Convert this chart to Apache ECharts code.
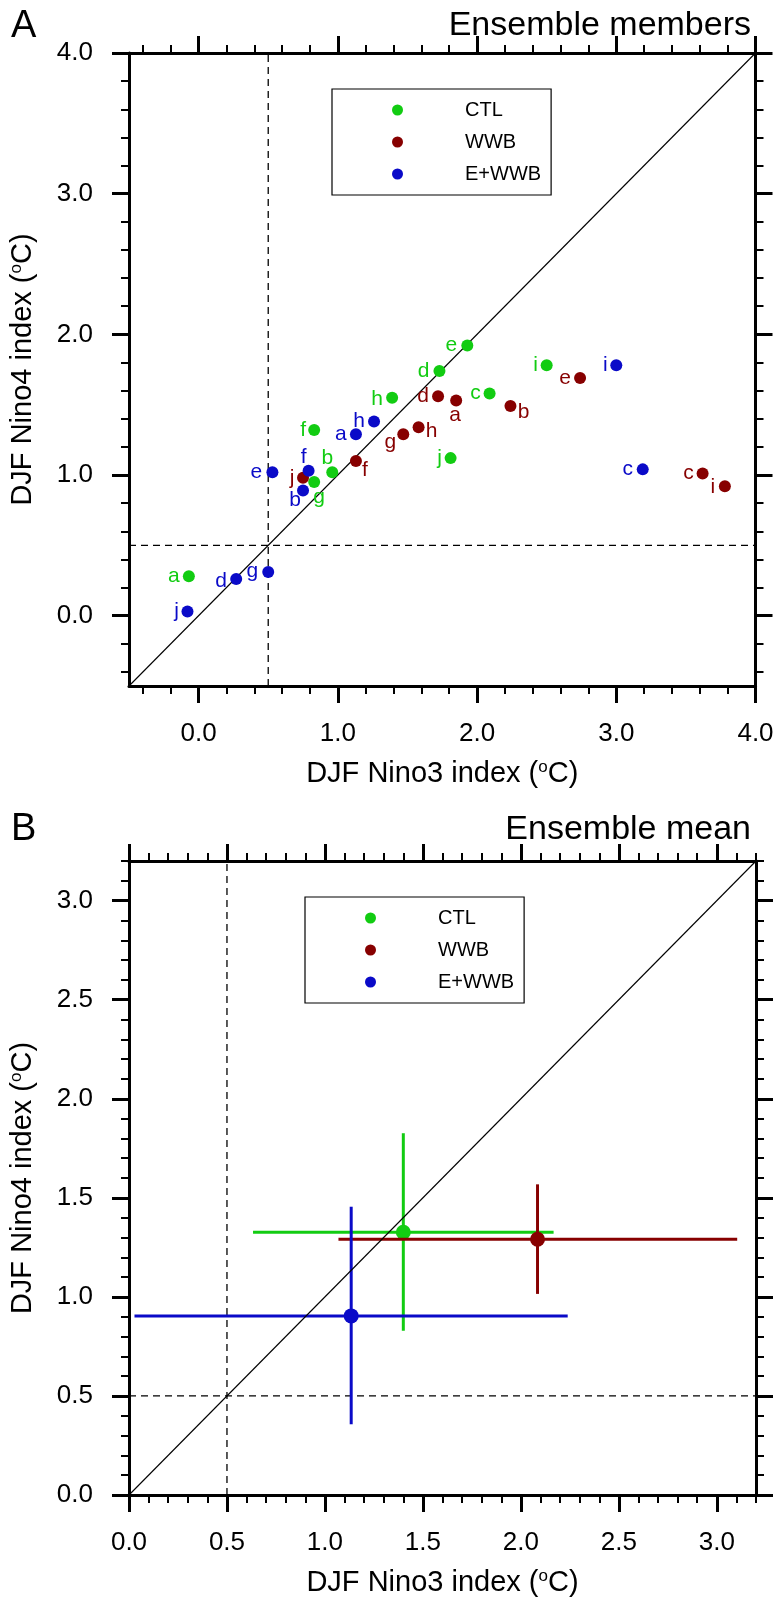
<!DOCTYPE html>
<html>
<head>
<meta charset="utf-8">
<script src="https://cdn.jsdelivr.net/npm/echarts@6/dist/echarts.min.js"></script>
<style>
  html, body { margin: 0; padding: 0; background: #fff; }
  #chart { width: 777px; height: 1599px; }
</style>
</head>
<body>
<div id="chart"></div>
<script>
// ---------------- DATA ----------------
const members = ['a', 'b', 'c', 'd', 'e', 'f', 'g', 'h', 'i', 'j'];
const groups = ['CTL', 'WWB', 'E+WWB'];

// Panel A: ensemble members (Nino3, Nino4)
const ctlX  = [-0.07, 0.96, 2.09, 1.73, 1.93, 0.83, 0.83, 1.39, 2.50, 1.81];
const ctlY  = [ 0.28, 1.02, 1.58, 1.74, 1.92, 1.32, 0.95, 1.55, 1.78, 1.12];
const wwbX  = [ 1.85, 2.24, 3.62, 1.72, 2.74, 1.13, 1.47, 1.58, 3.78, 0.75];
const wwbY  = [ 1.53, 1.49, 1.01, 1.56, 1.69, 1.10, 1.29, 1.34, 0.92, 0.98];
const ewwbX = [ 1.13, 0.75, 3.19, 0.27, 0.53, 0.79, 0.50, 1.26, 3.00, -0.08];
const ewwbY = [ 1.29, 0.89, 1.04, 0.26, 1.02, 1.03, 0.31, 1.38, 1.78, 0.03];

// Panel B: ensemble mean with spread bars
const meanX = [1.400, 2.085, 1.134];
const meanY = [1.326, 1.291, 0.904];
const barXLow  = [0.633, 1.069, 0.028];
const barXHigh = [2.167, 3.104, 2.239];
const barYLow  = [0.829, 1.015, 0.357];
const barYHigh = [1.826, 1.568, 1.455];

// Axis ranges and ticks
const rangeA = [-0.5, 4.0];
const majorTicksA = [0, 1, 2, 3, 4];
const minorTicksA = [-0.4, -0.2, 0.2, 0.4, 0.6, 0.8, 1.2, 1.4, 1.6, 1.8, 2.2, 2.4, 2.6, 2.8, 3.2, 3.4, 3.6, 3.8];
const rangeB = [0.0, 3.2];
const majorTicksB = [0, 0.5, 1.0, 1.5, 2.0, 2.5, 3.0];
const minorTicksB = [0.1, 0.2, 0.3, 0.4, 0.6, 0.7, 0.8, 0.9, 1.1, 1.2, 1.3, 1.4, 1.6, 1.7, 1.8, 1.9,
                     2.1, 2.2, 2.3, 2.4, 2.6, 2.7, 2.8, 2.9, 3.1, 3.2];
const threshold = 0.5;

// ---------------- STYLE ----------------
const colors = { 'CTL': '#12cc12', 'WWB': '#870000', 'E+WWB': '#0a0ac8' };
const FONT = '"Liberation Sans", Arial, Helvetica, sans-serif';

// label offsets (pixels, from dot centre) for member letters
const labelOffsets = {
  'CTL':   { a: [-15, 0], b: [-5, -14], c: [-14, 0], d: [-16, 0], e: [-16, 0], f: [-11, 0], g: [5, 15], h: [-15, 2], i: [-11, 0], j: [-11, 0] },
  'WWB':   { a: [-1, 15], b: [13, 6], c: [-14, 0], d: [-15, 0], e: [-15, 0], f: [9, 9], g: [-13, 8], h: [13, 4], i: [-12, 1], j: [-11, 0] },
  'E+WWB': { a: [-15, 0], b: [-8, 10], c: [-15, 0], d: [-15, 2], e: [-16, 0], f: [-5, -14], g: [-16, -1], h: [-15, 0], i: [-11, 0], j: [-11, 0] }
};

const gridA = { left: 122, top: 53, width: 633.5, height: 633 };
const gridB = { left: 123, top: 861, width: 633, height: 634 };

function axisName(letter) {
  return 'DJF Nino' + letter + ' index ({sup|o}C)';
}
const nameStyle = {
  fontFamily: FONT, fontSize: 29, color: '#000',
  rich: { sup: { fontFamily: FONT, fontSize: 17, verticalAlign: 'top', color: '#000', padding: [0, 0, 10, 0] } }
};

function makeAxes(dim, gridIndex, range, major, minor, nameLetter) {
  const isX = dim === 'x';
  const posMain = isX ? 'bottom' : 'left';
  const posOpp = isX ? 'top' : 'right';
  const base = {
    type: 'value', gridIndex, min: range[0], max: range[1],
    splitLine: { show: false }
  };
  const mk = (position, ticks, isMajor, showLabel) => Object.assign({}, base, {
    position,
    axisLine: { show: isMajor, onZero: false, lineStyle: { color: '#000', width: 3 } },
    axisTick: { show: true, inside: false, customValues: ticks, length: isMajor ? 17 : 8,
                lineStyle: { color: '#000', width: isMajor ? 3 : 2 } },
    axisLabel: showLabel ? {
      show: true, customValues: ticks, formatter: v => Number(v).toFixed(1),
      fontFamily: FONT, fontSize: 26, color: '#000', margin: isX ? 35 : 36
    } : { show: false }
  });
  const main = mk(posMain, major, true, true);
  main.name = axisName(nameLetter);
  main.nameLocation = 'middle';
  main.nameGap = isX ? 73 : 92;
  main.nameTextStyle = nameStyle;
  return [main, mk(posMain, minor, false, false), mk(posOpp, major, true, false), mk(posOpp, minor, false, false)];
}

const xAxes = [].concat(
  makeAxes('x', 0, rangeA, majorTicksA, minorTicksA, '3'),
  makeAxes('x', 1, rangeB, majorTicksB, minorTicksB, '3')
);
const yAxes = [].concat(
  makeAxes('y', 0, rangeA, majorTicksA, minorTicksA, '4'),
  makeAxes('y', 1, rangeB, majorTicksB, minorTicksB, '4')
);

// ---------------- SERIES ----------------
const memberX = { 'CTL': ctlX, 'WWB': wwbX, 'E+WWB': ewwbX };
const memberY = { 'CTL': ctlY, 'WWB': wwbY, 'E+WWB': ewwbY };

function refLines(range, xi, yi) {
  const lineStyleSolid = { color: '#000', width: 1.1 };
  const lineStyleDash = { color: '#000', width: 1.3, type: [7, 5] };
  const common = { type: 'line', xAxisIndex: xi, yAxisIndex: yi, symbol: 'none', silent: true,
                   animation: false, clip: true };
  return [
    Object.assign({}, common, { name: 'one-to-one', data: range.map(v => [v, v]), lineStyle: lineStyleSolid, z: 3 }),
    Object.assign({}, common, { name: 'x-threshold', data: range.map(v => [threshold, v]), lineStyle: lineStyleDash, z: 1 }),
    Object.assign({}, common, { name: 'y-threshold', data: range.map(v => [v, threshold]), lineStyle: lineStyleDash, z: 1 })
  ];
}

const series = [];
series.push(...refLines(rangeA, 0, 0));
groups.forEach(g => {
  series.push({
    type: 'scatter', name: g, xAxisIndex: 0, yAxisIndex: 0,
    symbol: 'circle', symbolSize: 12, z: 4, animation: false,
    itemStyle: { color: colors[g], opacity: 1 },
    label: { show: true, position: 'inside', formatter: p => p.name,
             fontFamily: FONT, fontSize: 21, color: colors[g] },
    emphasis: { disabled: true },
    data: members.map((m, i) => ({
      name: m, value: [memberX[g][i], memberY[g][i]],
      label: { offset: labelOffsets[g][m] }
    }))
  });
});

series.push(...refLines(rangeB, 4, 4));
groups.forEach((g, i) => {
  series.push({
    type: 'custom', name: g, xAxisIndex: 4, yAxisIndex: 4, z: 2, animation: false,
    itemStyle: { color: colors[g] },
    encode: { x: [0, 2, 3], y: [1, 4, 5] },
    data: [[meanX[i], meanY[i], barXLow[i], barXHigh[i], barYLow[i], barYHigh[i]]],
    renderItem: (params, api) => {
      const x = api.value(0), y = api.value(1);
      const pL = api.coord([api.value(2), y]);
      const pR = api.coord([api.value(3), y]);
      const pB = api.coord([x, api.value(4)]);
      const pT = api.coord([x, api.value(5)]);
      const c = api.coord([x, y]);
      const col = colors[g];
      return {
        type: 'group',
        children: [
          { type: 'line', shape: { x1: pL[0], y1: pL[1], x2: pR[0], y2: pR[1] }, style: { stroke: col, lineWidth: 3 } },
          { type: 'line', shape: { x1: pB[0], y1: pB[1], x2: pT[0], y2: pT[1] }, style: { stroke: col, lineWidth: 3 } },
          { type: 'circle', shape: { cx: c[0], cy: c[1], r: 7.5 }, style: { fill: col } }
        ]
      };
    }
  });
});

function legendAt(left, top) {
  return {
    orient: 'vertical', left, top,
    data: groups.map(g => ({ name: g, icon: 'circle', itemStyle: { color: colors[g] } })),
    itemWidth: 11, itemHeight: 11, itemGap: 12,
    padding: [11, 10, 11, 60],
    borderColor: '#000', borderWidth: 1.2,
    selectedMode: false,
    textStyle: { fontFamily: FONT, fontSize: 20, lineHeight: 20, color: '#000', padding: [0, 0, 0, 57] }
  };
}

const option = {
  backgroundColor: '#fff',
  animation: false,
  title: [
    { text: 'A', left: 6, top: 3, textStyle: { fontFamily: FONT, fontSize: 38, fontWeight: 'normal', color: '#000' } },
    { text: 'Ensemble members', right: 21, top: 4, textStyle: { fontFamily: FONT, fontSize: 34, fontWeight: 'normal', color: '#000' } },
    { text: 'B', left: 6, top: 806, textStyle: { fontFamily: FONT, fontSize: 38, fontWeight: 'normal', color: '#000' } },
    { text: 'Ensemble mean', right: 21, top: 808, textStyle: { fontFamily: FONT, fontSize: 34, fontWeight: 'normal', color: '#000' } }
  ],
  legend: [legendAt(332, 89), legendAt(305, 897)],
  grid: [gridA, gridB],
  xAxis: xAxes,
  yAxis: yAxes,
  series
};

const chart = echarts.init(document.getElementById('chart'), null, { renderer: 'canvas' });
chart.setOption(option);
</script>
</body>
</html>
